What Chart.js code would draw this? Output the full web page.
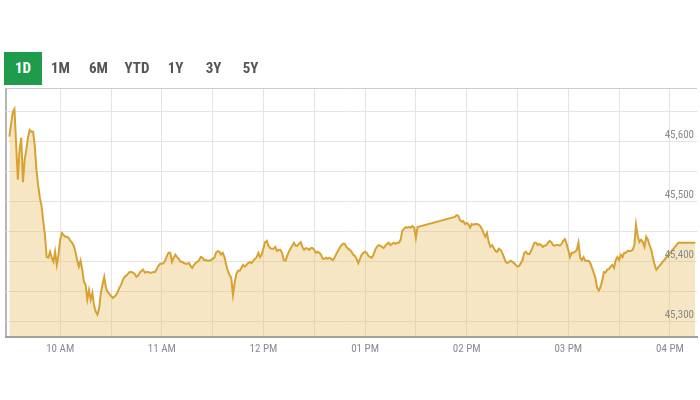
<!DOCTYPE html>
<html>
<head>
<meta charset="utf-8">
<script src="https://cdn.jsdelivr.net/npm/chart.js@4.4.1/dist/chart.umd.min.js"></script>
<style>
  html, body { margin: 0; padding: 0; background: #ffffff; }
  #wrap { position: relative; width: 700px; height: 400px; overflow: hidden; }
  canvas { position: absolute; left: 0; top: 0; }
  .tab { position: absolute; top: 52px; height: 33px; line-height: 33px; text-align: center;
         font-family: "Liberation Sans Narrow", "Roboto Condensed", Roboto, sans-serif;
         font-weight: bold; font-size: 15px; color: #555555; }
  .tab.active { background: #1f9c4b; color: #ffffff; }
</style>
</head>
<body>
<div id="wrap">
  <canvas id="c" width="700" height="400"></canvas>
  <div class="tab active" style="left:4px;width:38px;">1D</div>
  <div class="tab" style="left:44px;width:33px;">1M</div>
  <div class="tab" style="left:82px;width:33px;">6M</div>
  <div class="tab" style="left:120px;width:34px;">YTD</div>
  <div class="tab" style="left:159px;width:33px;">1Y</div>
  <div class="tab" style="left:197px;width:33px;">3Y</div>
  <div class="tab" style="left:234px;width:33px;">5Y</div>
</div>
<script>
// ---- data ----
const times = [
  "09:30","09:31","09:32","09:33","09:34","09:35","09:36","09:37","09:38","09:39",
  "09:40","09:41","09:42","09:43","09:44","09:45","09:46","09:47","09:48","09:49",
  "09:50","09:51","09:52","09:53","09:54","09:55","09:56","09:57","09:58","09:59",
  "10:00","10:01","10:02","10:03","10:04","10:05","10:06","10:07","10:08","10:09",
  "10:10","10:11","10:12","10:13","10:14","10:15","10:16","10:17","10:18","10:19",
  "10:20","10:21","10:22","10:23","10:24","10:25","10:26","10:27","10:28","10:29",
  "10:30","10:31","10:32","10:33","10:34","10:35","10:36","10:37","10:38","10:39",
  "10:40","10:41","10:42","10:43","10:44","10:45","10:46","10:47","10:48","10:49",
  "10:50","10:51","10:52","10:53","10:54","10:55","10:56","10:57","10:58","10:59",
  "11:00","11:01","11:02","11:03","11:04","11:05","11:06","11:07","11:08","11:09",
  "11:10","11:11","11:12","11:13","11:14","11:15","11:16","11:17","11:18","11:19",
  "11:20","11:21","11:22","11:23","11:24","11:25","11:26","11:27","11:28","11:29",
  "11:30","11:31","11:32","11:33","11:34","11:35","11:36","11:37","11:38","11:39",
  "11:40","11:41","11:42","11:43","11:44","11:45","11:46","11:47","11:48","11:49",
  "11:50","11:51","11:52","11:53","11:54","11:55","11:56","11:57","11:58","11:59",
  "12:00","12:01","12:02","12:03","12:04","12:05","12:06","12:07","12:08","12:09",
  "12:10","12:11","12:12","12:13","12:14","12:15","12:16","12:17","12:18","12:19",
  "12:20","12:21","12:22","12:23","12:24","12:25","12:26","12:27","12:28","12:29",
  "12:30","12:31","12:32","12:33","12:34","12:35","12:36","12:37","12:38","12:39",
  "12:40","12:41","12:42","12:43","12:44","12:45","12:46","12:47","12:48","12:49",
  "12:50","12:51","12:52","12:53","12:54","12:55","12:56","12:57","12:58","12:59",
  "13:00","13:01","13:02","13:03","13:04","13:05","13:06","13:07","13:08","13:09",
  "13:10","13:11","13:12","13:13","13:14","13:15","13:16","13:17","13:18","13:19",
  "13:20","13:21","13:22","13:23","13:24","13:25","13:26","13:27","13:28","13:29",
  "13:30","13:31",
  "13:53","13:54","13:55","13:56","13:57","13:58","13:59",
  "14:00","14:01","14:02","14:03","14:04","14:05","14:06","14:07","14:08","14:09",
  "14:10","14:11","14:12","14:13","14:14","14:15","14:16","14:17","14:18","14:19",
  "14:20","14:21","14:22","14:23","14:24","14:25","14:26","14:27","14:28","14:29",
  "14:30","14:31","14:32","14:33","14:34","14:35","14:36","14:37","14:38","14:39",
  "14:40","14:41","14:42","14:43","14:44","14:45","14:46","14:47","14:48","14:49",
  "14:50","14:51","14:52","14:53","14:54","14:55","14:56","14:57","14:58","14:59",
  "15:00","15:01","15:02","15:03","15:04","15:05","15:06","15:07","15:08","15:09",
  "15:10","15:11","15:12","15:13","15:14","15:15","15:16","15:17","15:18","15:19",
  "15:20","15:21","15:22","15:23","15:24","15:25","15:26","15:27","15:28","15:29",
  "15:30","15:31","15:32","15:33","15:34","15:35","15:36","15:37","15:38","15:39",
  "15:40","15:41","15:42","15:43","15:44","15:45","15:46","15:47","15:48","15:49",
  "15:50","15:51","15:52",
  "16:05","16:15"
];
const values = [
  45609,45630,45650,45655,45595,45537,45587,45607,45533,45570,
  45587,45608,45620,45617,45617,45593,45553,45527,45507,45493,
  45467,45445,45408,45407,45417,45407,45400,45417,45395,45412,
  45437,45448,45445,45442,45442,45440,45435,45432,45427,45417,
  45403,45392,45402,45387,45367,45362,45337,45353,45337,45348,
  45327,45317,45312,45323,45348,45362,45375,45357,45350,45347,
  45343,45340,45342,45345,45350,45357,45362,45370,45375,45377,
  45380,45383,45383,45382,45380,45375,45377,45382,45385,45387,
  45382,45383,45383,45382,45382,45383,45383,45388,45393,45397,
  45397,45398,45402,45410,45415,45415,45400,45407,45412,45408,
  45405,45400,45400,45398,45397,45397,45398,45393,45390,45395,
  45398,45400,45403,45408,45407,45403,45403,45402,45402,45403,
  45405,45407,45415,45418,45417,45412,45415,45408,45395,45385,
  45378,45373,45345,45365,45380,45385,45385,45390,45395,45392,
  45395,45398,45400,45398,45402,45405,45408,45415,45408,45412,
  45423,45433,45435,45427,45423,45422,45422,45425,45418,45420,
  45420,45415,45403,45402,45410,45417,45422,45427,45432,45427,
  45427,45430,45433,45425,45420,45423,45422,45420,45423,45423,
  45420,45415,45417,45415,45412,45405,45405,45407,45405,45407,
  45405,45403,45407,45413,45418,45423,45428,45430,45430,45425,
  45422,45420,45417,45412,45410,45405,45398,45405,45412,45415,
  45417,45415,45410,45408,45407,45412,45420,45425,45428,45427,
  45425,45423,45427,45430,45432,45428,45430,45432,45430,45432,
  45432,45437,45452,45455,45458,45457,45458,45457,45460,45457,
  45440,45458,
  45475,45478,45477,45470,45467,45468,45463,
  45465,45463,45457,45463,45462,45463,45463,45462,45460,45455,
  45448,45442,45448,45433,45425,45428,45423,45418,45417,45422,
  45420,45415,45408,45400,45398,45400,45402,45400,45398,45395,
  45392,45393,45398,45403,45415,45417,45413,45413,45418,45425,
  45432,45432,45428,45430,45428,45425,45427,45428,45432,45435,
  45433,45428,45427,45428,45428,45427,45430,45435,45438,45430,
  45420,45408,45415,45415,45417,45420,45432,45407,45403,45408,
  45402,45402,45402,45398,45390,45382,45373,45357,45352,45358,
  45368,45383,45382,45387,45388,45392,45395,45390,45403,45408,
  45403,45412,45408,45415,45415,45418,45418,45418,45420,45428,
  45462,45443,45433,45437,45433,45425,45442,45437,45428,45420,
  45407,45395,45387,
  45432,45432
];
const hourLabels = ["10 AM","11 AM","12 PM","01 PM","02 PM","03 PM","04 PM"];
const hourTicks = ["10:00","11:00","12:00","13:00","14:00","15:00","16:00"];
const yTickValues = [45300, 45350, 45400, 45450, 45500, 45550, 45600, 45650];

// ---- helpers ----
const toMin = s => { const p = s.split(":"); return (+p[0]) * 60 + (+p[1]); };
const X_MIN = toMin("09:28"), X_MAX = toMin("16:16");
const Y_MIN = 45275, Y_MAX = 45690;
const points = times.map((t, i) => ({ x: toMin(t), y: values[i] }));
const hourMins = hourTicks.map(toMin);
const gridMins = [];
for (let m = hourMins[0]; m <= hourMins[hourMins.length - 1]; m += 30) gridMins.push(m);

const FONT = "'Liberation Sans Narrow', 'Roboto Condensed', Roboto, sans-serif";

new Chart(document.getElementById('c'), {
  type: 'line',
  data: {
    datasets: [{
      data: points,
      borderColor: '#d8a232',
      borderWidth: 2,
      backgroundColor: 'rgba(232,190,100,0.38)',
      fill: 'start',
      pointRadius: 0,
      tension: 0
    }]
  },
  options: {
    responsive: false,
    animation: false,
    layout: { padding: { top: 88, left: 2, right: 3, bottom: 38 } },
    plugins: { legend: { display: false }, tooltip: { enabled: false } },
    scales: {
      x: {
        type: 'linear',
        min: X_MIN, max: X_MAX,
        afterBuildTicks: s => { s.ticks = [X_MIN].concat(gridMins).map(v => ({ value: v })); },
        grid: {
          drawTicks: false,
          color: c => (c.tick && c.tick.value === X_MIN) ? '#b5b5b5' : '#e4e4e4',
          lineWidth: c => (c.tick && c.tick.value === X_MIN) ? 2 : 1
        },
        border: { display: true, color: '#9e9e9e', width: 2 },
        ticks: {
          padding: 6, maxRotation: 0, autoSkip: false,
          color: '#8a8a8a', font: { family: FONT, size: 11 },
          callback: v => { const i = hourMins.indexOf(v); return i >= 0 ? hourLabels[i] : ''; }
        }
      },
      y: {
        position: 'right',
        min: Y_MIN, max: Y_MAX,
        afterBuildTicks: s => { s.ticks = yTickValues.concat([Y_MAX]).map(v => ({ value: v })); },
        grid: {
          drawTicks: false,
          color: c => (c.tick && c.tick.value === Y_MAX) ? '#cccccc' : '#e4e4e4'
        },
        border: { display: false },
        ticks: {
          mirror: true, padding: -3, z: 1,
          color: '#8a8a8a', font: { family: FONT, size: 11 },
          callback: v => (v % 100 === 0) ? [v.toLocaleString('en-US'), ''] : ''
        }
      }
    }
  }
});
</script>
</body>
</html>
